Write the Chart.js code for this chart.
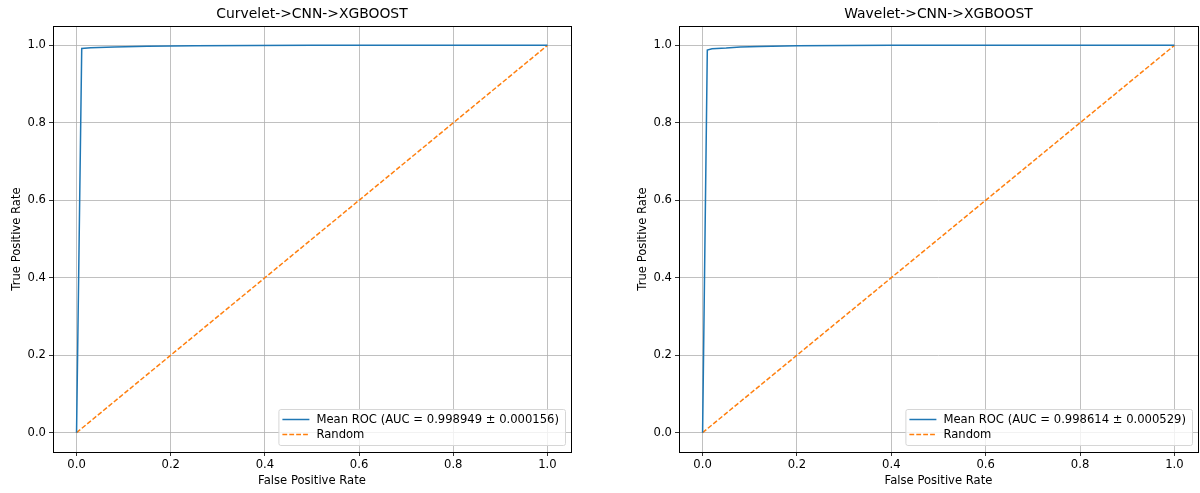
<!DOCTYPE html>
<html>
<head>
<meta charset="utf-8">
<script src="https://cdn.jsdelivr.net/npm/chart.js@4.4.0/dist/chart.umd.min.js"></script>
<style>
  body { margin: 0; background: #fff; }
  .box { position: absolute; top: 0; width: 600px; height: 493px; }
</style>
</head>
<body>
<div class="box" style="left:0"><canvas id="curveletChart" width="600" height="493"></canvas></div>
<div class="box" style="left:600px"><canvas id="waveletChart" width="600" height="493"></canvas></div>
<script>
// ROC data
const curveletFpr = [0, 0.011, 0.03, 0.08, 0.15, 0.25, 0.5, 1.0];
const curveletTpr = [0, 0.992, 0.994, 0.996, 0.998, 0.999, 1.0, 1.0];
const waveletFpr = [0, 0.01, 0.02, 0.05, 0.08, 0.12, 0.2, 0.4, 1.0];
const waveletTpr = [0, 0.988, 0.991, 0.993, 0.996, 0.997, 0.999, 1.0, 1.0];
const randomFpr = [0, 1];
const randomTpr = [0, 1];
const tickValues = [0, 0.2, 0.4, 0.6, 0.8, 1.0];

const FONT = "'DejaVu Sans', sans-serif";
const FS = 11.6;

function toPoints(xs, ys) {
    return xs.map((x, i) => ({ x: x, y: ys[i] }));
}

// frame, title and legend drawn like matplotlib
const framePlugin = {
    id: 'frame',
    afterDraw(chart, args, opts) {
        const ctx = chart.ctx;
        const a = chart.chartArea;
        ctx.save();
        ctx.strokeStyle = '#000';
        ctx.lineWidth = 1;
        ctx.strokeRect(Math.round(a.left) + 0.5, Math.round(a.top) + 0.5,
            Math.round(a.right - a.left), Math.round(a.bottom - a.top));

        ctx.fillStyle = '#000';
        ctx.font = '13.9px ' + FONT;
        ctx.textAlign = 'center';
        ctx.textBaseline = 'middle';
        ctx.fillText(opts.title, (a.left + a.right) / 2, 14);

        // legend
        ctx.font = FS + 'px ' + FONT;
        const items = chart.data.datasets;
        let textW = 0;
        items.forEach(d => { textW = Math.max(textW, ctx.measureText(d.label).width); });
        const w = textW + 44;
        const h = 36;
        const x = a.right - 6 - w;
        const y = a.bottom - 7 - h;
        ctx.fillStyle = 'rgba(255,255,255,0.8)';
        ctx.strokeStyle = '#d6d6d6';
        ctx.lineWidth = 1;
        ctx.beginPath();
        ctx.roundRect(x + 0.5, y + 0.5, w, h, 2);
        ctx.fill();
        ctx.stroke();
        items.forEach((d, i) => {
            const ly = y + 10.5 + i * 15;
            ctx.strokeStyle = d.borderColor;
            ctx.lineWidth = 1.5;
            ctx.setLineDash(d.borderDash || []);
            ctx.beginPath();
            ctx.moveTo(x + 4, ly);
            ctx.lineTo(x + 31, ly);
            ctx.stroke();
            ctx.setLineDash([]);
            ctx.fillStyle = '#000';
            ctx.textAlign = 'left';
            ctx.fillText(d.label, x + 38, ly);
        });
        ctx.restore();
    }
};

function makeChart(id, title, fpr, tpr, auc, yWidth, rightPad) {
    const ctx = document.getElementById(id).getContext('2d');
    return new Chart(ctx, {
        type: 'scatter',
        data: {
            datasets: [
                {
                    label: auc,
                    data: toPoints(fpr, tpr),
                    showLine: true,
                    borderColor: '#1f77b4',
                    borderWidth: 1.5,
                    pointRadius: 0,
                    tension: 0
                },
                {
                    label: 'Random',
                    data: toPoints(randomFpr, randomTpr),
                    showLine: true,
                    borderColor: '#ff7f0e',
                    borderWidth: 1.5,
                    borderDash: [4.8, 2.1],
                    pointRadius: 0
                }
            ]
        },
        options: {
            responsive: false,
            animation: false,
            layout: { padding: { top: 26, right: rightPad, left: 0, bottom: 0 } },
            plugins: {
                legend: { display: false },
                tooltip: { enabled: false },
                frame: { title: title }
            },
            scales: {
                x: {
                    type: 'linear',
                    min: -0.05,
                    max: 1.05,
                    afterBuildTicks: s => { s.ticks = tickValues.map(v => ({ value: v })); },
                    afterFit: s => { s.height = 41; },
                    grid: { color: '#b0b0b0', lineWidth: 0.8, tickLength: 4, tickColor: '#000' },
                    border: { display: false },
                    ticks: { color: '#000', font: { family: FONT, size: FS }, padding: 2,
                             maxRotation: 0, callback: v => v.toFixed(1) },
                    title: { display: true, text: 'False Positive Rate', color: '#000',
                             font: { family: FONT, size: FS }, padding: { top: 1, bottom: 5 } }
                },
                y: {
                    type: 'linear',
                    min: -0.05,
                    max: 1.05,
                    afterBuildTicks: s => { s.ticks = tickValues.map(v => ({ value: v })); },
                    afterFit: s => { s.width = yWidth; },
                    grid: { color: '#b0b0b0', lineWidth: 0.8, tickLength: 4, tickColor: '#000' },
                    border: { display: false },
                    ticks: { color: '#000', font: { family: FONT, size: FS }, padding: 3,
                             callback: v => v.toFixed(1) },
                    title: { display: true, text: 'True Positive Rate', color: '#000',
                             font: { family: FONT, size: FS }, padding: { top: yWidth - 43, bottom: 4 } }
                }
            }
        },
        plugins: [framePlugin]
    });
}

makeChart('curveletChart', 'Curvelet->CNN->XGBOOST', curveletFpr, curveletTpr,
    'Mean ROC (AUC = 0.998949 \u00b1 0.000156)', 53, 29);
makeChart('waveletChart', 'Wavelet->CNN->XGBOOST', waveletFpr, waveletTpr,
    'Mean ROC (AUC = 0.998614 \u00b1 0.000529)', 79, 2);
</script>
</body>
</html>
